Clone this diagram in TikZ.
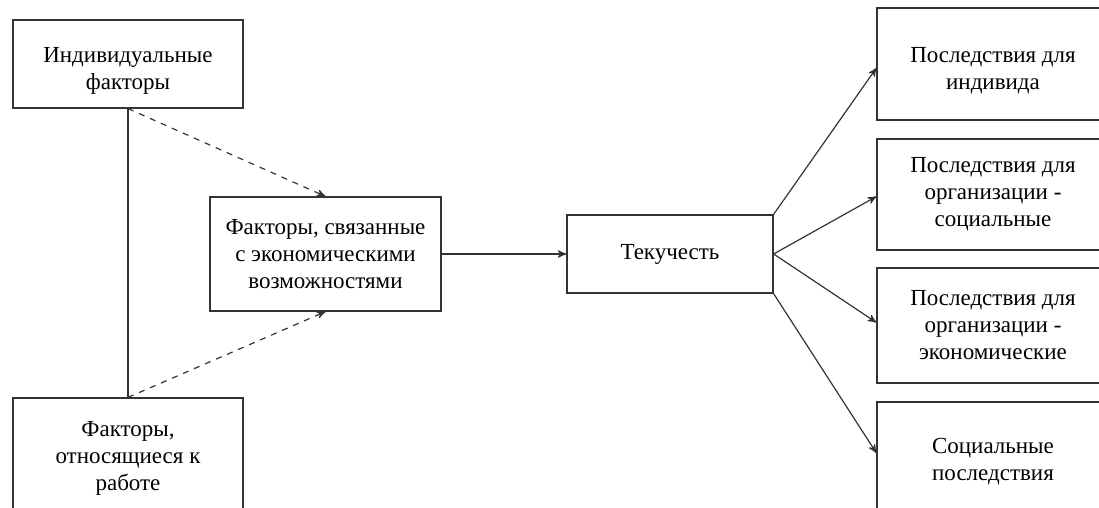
\documentclass[tikz,border=0pt]{standalone}
\usepackage{fontspec}
\setmainfont{Liberation Serif}
\usetikzlibrary{arrows}

\begin{document}
\begin{tikzpicture}[->,>=stealth',semithick,x=0.5pt,y=-0.5pt,
        every edge/.append style={draw=black!80},
        fact/.style={shape=rectangle,draw=black!80,align=center,inner sep=2pt,
            font=\fontsize{11.5}{13.5}\selectfont,minimum width=115pt}]
                \useasboundingbox (0,0) rectangle (1099,508);
                \clip (0,0) rectangle (1099,508);
                \node[fact,minimum height=44pt](ind)at(128, 64){\rule{0pt}{14pt}Индивидуальные\\факторы};
                \node[fact,minimum height=60pt](job)at(128, 458){Факторы,\\относящиеся к\\работе};
                \node[fact,minimum width=115.5pt,minimum height=57pt](econ)at(325.5, 254){Факторы, связанные\\с экономическими\\возможностями};
                \node[fact,minimum width=103pt,minimum height=39pt](tek)at(670, 254){Текучесть};
                \node[fact,minimum width=116pt,minimum height=56pt](r1)at(993, 64){\rule{0pt}{14pt}Последствия для\\индивида};
                \node[fact,minimum width=116pt,minimum height=55.5pt](r2)at(993, 194.5){Последствия для\\организации -\\социальные};
                \node[fact,minimum width=116pt,minimum height=57.5pt](r3)at(993, 325.5){Последствия для\\организации -\\экономические};
                \node[fact,minimum width=116pt,minimum height=60pt](r4)at(993, 462){Социальные\\последствия};
                \path[-](ind.south) edge (job.north);
                \path[dashed](ind.south) edge (econ.north)
                (job.north) edge (econ.south);
                \path(econ) edge (tek)
                (tek.north east) edge ([yshift=-2pt]r1.west)
                (tek.east) edge ([yshift=-1pt]r2.west)
                (tek.east) edge ([yshift=1.5pt]r3.west)
                (tek.south east) edge ([yshift=4.5pt]r4.west);
            \end{tikzpicture}
\end{document}
